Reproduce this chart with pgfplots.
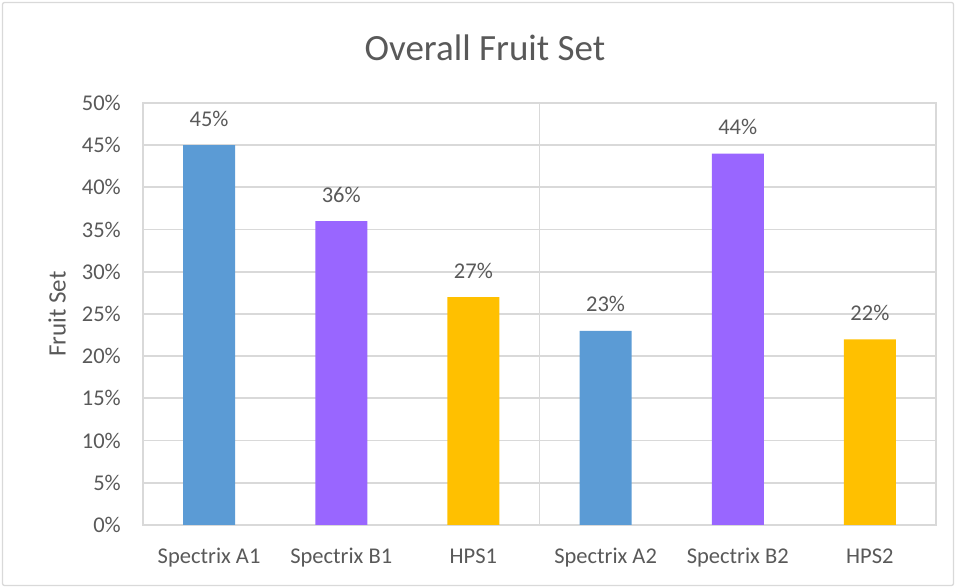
\documentclass[border=0pt]{standalone}
\usepackage{fontspec}
\setmainfont{Carlito}
\usepackage{pgfplots}
\pgfplotsset{compat=1.18}
\definecolor{txt}{HTML}{595959}
\definecolor{grd}{HTML}{D9D9D9}
\definecolor{cblue}{HTML}{5B9BD5}
\definecolor{cpurp}{HTML}{9966FF}
\definecolor{cgold}{HTML}{FFC000}
\begin{document}
\begin{tikzpicture}[x=1pt,y=1pt]
\useasboundingbox (0,0) rectangle (956,588);
\draw[grd, line width=1.3pt, rounded corners=2pt] (2.5,2.5) rectangle (953.5,585.5);
\node[txt, font=\fontsize{37}{42}\selectfont] at (485,540) {Overall Fruit Set};
\begin{axis}[
  at={(143pt,63pt)}, anchor=south west, scale only axis,
  width=793pt, height=422pt,
  xmin=-0.5, xmax=5.5, ymin=0, ymax=50,
  ytick={0,5,...,50},
  xtick={0,1,2,3,4,5},
  xticklabels={Spectrix A1, Spectrix B1, HPS1, Spectrix A2, Spectrix B2, HPS2},
  extra x ticks={2.5}, extra x tick labels={},
  extra x tick style={grid=major, major tick length=0pt},
  major tick length=0pt,
  ymajorgrids,
  grid style={grd, line width=1.8pt},
  axis line style={grd, line width=1.8pt},
  /pgf/number format/assume math mode=true,
  yticklabel={\pgfmathprintnumber{\tick}\%},
  yticklabel style={anchor=east, inner sep=0pt, xshift=-22pt, text=txt, font=\fontsize{22.5}{26}\selectfont},
  xticklabel style={anchor=base, inner sep=0pt, yshift=-39pt, text=txt, font=\fontsize{22.5}{26}\selectfont},
  ylabel={Fruit Set},
  every axis y label/.style={at={(axis description cs:0,0.5)}, xshift=-86pt, rotate=90, anchor=center, text=txt, font=\fontsize{25}{29}\selectfont},
  ybar, bar width=52pt, bar shift=0pt,
  nodes near coords={\pgfmathprintnumber{\pgfplotspointmeta}\%},
  nodes near coords style={anchor=base, inner sep=0pt, yshift=19pt, text=txt, font=\fontsize{22.5}{26}\selectfont},
]
\addplot[fill=cblue, draw=none] coordinates {(0,45) (3,23)};
\addplot[fill=cpurp, draw=none] coordinates {(1,36) (4,44)};
\addplot[fill=cgold, draw=none] coordinates {(2,27) (5,22)};
\end{axis}
\end{tikzpicture}
\end{document}
